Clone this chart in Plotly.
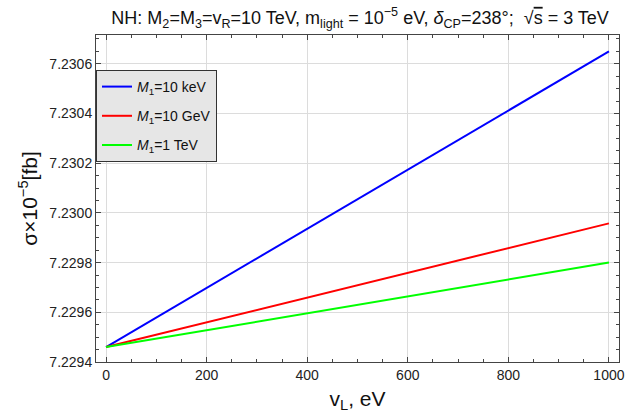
import plotly.graph_objects as go

x_vals = [0, 1000]
sigma_10keV = [7.22946, 7.23065]
sigma_10GeV = [7.22946, 7.229958]
sigma_1TeV = [7.22946, 7.22980]
labels = ["<i>M</i><sub>1</sub>=10 keV", "<i>M</i><sub>1</sub>=10 GeV", "<i>M</i><sub>1</sub>=1 TeV"]
colors = ["#0000ff", "#ff0000", "#00ff00"]
y_ticks = [7.2294, 7.2296, 7.2298, 7.2300, 7.2302, 7.2304, 7.2306]
y_ticklabels = ["7.2294", "7.2296", "7.2298", "7.2300", "7.2302", "7.2304", "7.2306"]

fig = go.Figure()
for i, (ys, lab, col) in enumerate(zip([sigma_10keV, sigma_10GeV, sigma_1TeV], labels, colors)):
    fig.add_trace(go.Scatter(x=x_vals, y=ys, mode="lines", name=lab, legendgroup=f"g{i}",
                             line=dict(color=col, width=2)))

font = "Liberation Sans, Arial, sans-serif"
axis_common = dict(showline=True, linecolor="#444", linewidth=1, mirror="ticks",
                   ticks="inside", ticklen=5, tickcolor="#444",
                   showgrid=True, gridcolor="#dcdcdc", gridwidth=1, zeroline=False,
                   tickfont=dict(family=font, size=14, color="#222"))

fig.update_layout(
    width=633, height=417,
    margin=dict(l=96, r=8, t=35, b=55),
    paper_bgcolor="white", plot_bgcolor="white",
    title=dict(text="NH: M<sub>2</sub>=M<sub>3</sub>=v<sub>R</sub>=10 TeV, m<sub>light</sub> = 10<sup>−5</sup> eV, <i>δ</i><sub>CP</sub>=238°;  √<span style='text-decoration:overline'>s</span> = 3 TeV",
               x=0.505, xref="paper", xanchor="center", y=0.958, yanchor="middle",
               font=dict(family=font, size=18, color="#111")),
    xaxis=dict(range=[-20, 1020], tickvals=[0, 200, 400, 600, 800, 1000],
               minor=dict(dtick=50, tick0=0, ticks="inside", ticklen=3, tickcolor="#444", showgrid=False),
               title=dict(text="v<sub>L</sub>, eV", font=dict(family=font, size=21, color="#111"), standoff=9),
               **axis_common),
    yaxis=dict(range=[7.2294, 7.230716], tickvals=y_ticks, ticktext=y_ticklabels,
               minor=dict(dtick=0.00005, tick0=7.2294, ticks="inside", ticklen=3, tickcolor="#444", showgrid=False),
               title=dict(text="σ×10<sup>−5</sup>[fb]", font=dict(family=font, size=21, color="#111"), standoff=6),
               **axis_common),
    legend=dict(x=0.0, y=0.893, xanchor="left", yanchor="top",
                bgcolor="#e6e6e6", bordercolor="#333", borderwidth=1,
                font=dict(family=font, size=14, color="#111"),
                itemwidth=30, tracegroupgap=8),
    showlegend=True,
)

fig.write_html("out.html", config={"displayModeBar": False},
               post_script="document.body.style.margin='0';")
